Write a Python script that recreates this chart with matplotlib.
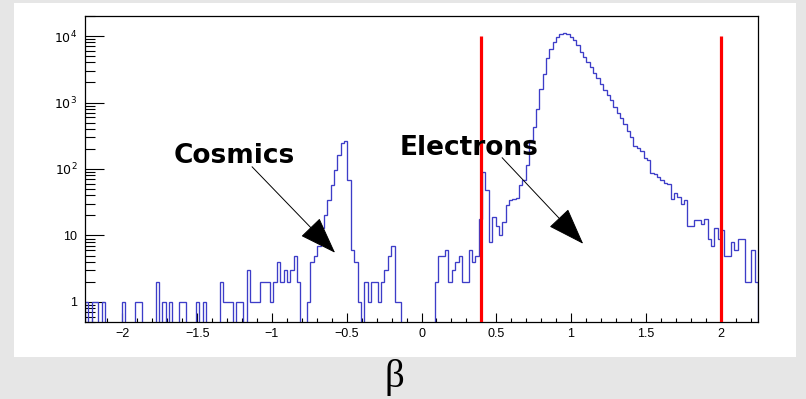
import numpy as np
import matplotlib
matplotlib.use("Agg")
import matplotlib.pyplot as plt
from matplotlib.patches import Rectangle, ArrowStyle
from matplotlib.ticker import FixedLocator, FuncFormatter, MultipleLocator

# ---------------- data ----------------
x_min, x_max, n_bins = -2.25, 2.25, 200

counts_cosmic_side = (
    [1, 0, 1, 1, 0, 1, 0, 0, 0, 0, 0, 1, 0, 0, 0, 1, 1, 0, 0, 0,
     0, 2, 0, 1, 0, 1, 0, 0, 1, 1, 0, 0, 0, 1, 0, 1, 0, 0, 0, 0,
     2, 1, 1, 1, 0, 1, 1, 0, 3, 1, 1, 1, 2, 2, 2, 1, 2, 4, 2, 3,
     2, 3, 5, 2, 0, 0, 1, 4, 5, 7, 13, 20, 34, 58, 95, 165, 250, 265, 68, 6,
     4, 1, 0, 2, 1, 2, 2, 1, 2, 3, 5, 7, 1, 1]
)
counts_gap = [0] * 10
counts_electron_side = (
    [2, 5, 5, 6, 2, 3, 4, 5, 2, 2, 6, 4, 5, 18, 89, 48, 8, 19, 14, 10,
     16, 29, 34, 36, 37, 57, 68, 114, 270, 430, 810, 1600, 2700, 4600, 6400, 8200,
     9600, 10800, 11000, 10900, 9800, 8600, 7300, 5800, 4900, 4100, 3400, 2800,
     2300, 1900, 1530, 1280, 1080, 860, 700, 580, 480, 370, 300, 220, 205, 186,
     147, 136, 88, 83, 76, 68, 62, 60, 36, 44, 38, 30, 34, 14, 14, 17, 17, 15,
     18, 9, 7, 13, 9, 12, 5, 5, 8, 6, 9, 9, 2, 2, 6, 2]
)
counts = np.array(counts_cosmic_side + counts_gap + counts_electron_side, dtype=float)
assert len(counts) == n_bins, len(counts)

cut_lines = [0.4, 2.0]
cut_top = 1e4
x_ticks = [-2, -1.5, -1, -0.5, 0, 0.5, 1, 1.5, 2]
y_ticks = [1, 10, 100, 1000, 10000]
y_tick_labels = ["1", "10", r"$10^{2}$", r"$10^{3}$", r"$10^{4}$"]
y_lim = (0.5, 2e4)

labels = ["Cosmics", "Electrons"]
label_pos = [(-1.25, 155), (0.315, 209)]
arrow_start = [(-1.133, 108), (0.539, 148)]
arrow_tip = [(-0.578, 5.5), (1.081, 7.5)]

# ---------------- figure ----------------
W, H = 806, 399
fig = plt.figure(figsize=(W / 100, H / 100), dpi=100)
fig.patch.set_facecolor("#e6e6e6")
fig.add_artist(Rectangle((14 / W, 1 - 357 / H), (796 - 14) / W, (357 - 3) / H,
                         transform=fig.transFigure, facecolor="white",
                         edgecolor="none", zorder=-10))

ax = fig.add_axes([85 / W, 1 - 322 / H, (758 - 85) / W, (322 - 16) / H])
ax.set_facecolor("white")

edges = np.linspace(x_min, x_max, n_bins + 1)
plot_vals = np.where(counts > 0, counts, 1e-3)
ax.stairs(plot_vals, edges, baseline=1e-3, color="#3d3dc8", linewidth=0.95, zorder=2)

ax.set_yscale("log")
ax.set_xlim(x_min, x_max)
ax.set_ylim(*y_lim)

for xc in cut_lines:
    ax.plot([xc, xc], [y_lim[0], cut_top], color="#ff0000", linewidth=2.3, zorder=3,
            solid_capstyle="butt")

# ticks
ax.xaxis.set_major_locator(FixedLocator(x_ticks))
ax.xaxis.set_minor_locator(MultipleLocator(0.1))
ax.xaxis.set_major_formatter(FuncFormatter(lambda v, p: ("%g" % v).replace("-", "\u2212")))
ax.yaxis.set_major_locator(FixedLocator(y_ticks))
ax.yaxis.set_major_formatter(FuncFormatter(
    lambda v, p: y_tick_labels[y_ticks.index(int(round(v)))] if int(round(v)) in y_ticks else ""))
ax.yaxis.set_minor_locator(matplotlib.ticker.LogLocator(base=10, subs=np.arange(2, 10)))
ax.yaxis.set_minor_formatter(matplotlib.ticker.NullFormatter())

ax.tick_params(axis="x", which="major", direction="in", length=6.5, width=0.8,
               top=False, pad=4.5, labelsize=9, colors="black")
ax.tick_params(axis="x", which="minor", direction="in", length=3.2, width=0.8, top=False)
ax.tick_params(axis="y", which="major", direction="in", length=13.5, width=0.8,
               right=False, pad=5.5, labelsize=9, colors="black")
ax.tick_params(axis="y", which="minor", direction="in", length=7, width=0.8, right=False)
for lab in ax.get_xticklabels() + ax.get_yticklabels():
    lab.set_family("Liberation Sans")

for sp in ax.spines.values():
    sp.set_linewidth(0.9)
    sp.set_color("black")

# annotations
style = ArrowStyle("-|>", head_length=2.4, head_width=0.85)
for text, pos, start, tip in zip(labels, label_pos, arrow_start, arrow_tip):
    ax.text(pos[0], pos[1], text, ha="center", va="center", fontsize=19,
            fontweight="bold", family="DejaVu Sans", zorder=5)
    ax.annotate("", xy=tip, xytext=start,
                arrowprops=dict(arrowstyle=style, mutation_scale=10, color="black",
                                lw=0.7, shrinkA=0, shrinkB=0), zorder=5)

fig.text(394 / W, 1 - 377 / H, "\u03b2", family="Liberation Serif", fontsize=28,
         ha="center", va="center")

fig.savefig("out.png", dpi=100, facecolor=fig.get_facecolor())
